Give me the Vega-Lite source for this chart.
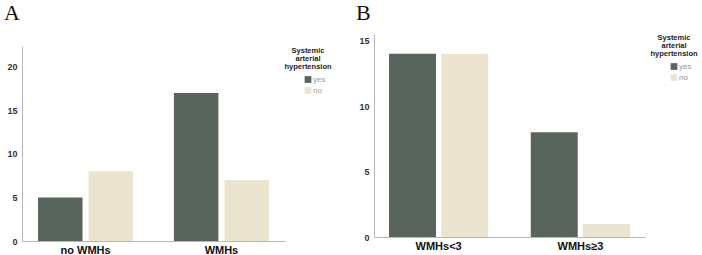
{
  "$schema": "https://vega.github.io/schema/vega-lite/v6.json",
  "padding": {"left": 3, "top": 2, "right": 0, "bottom": 0},
  "background": "white",
  "config": {
    "view": {"stroke": null},
    "font": "Liberation Sans",
    "axis": {"domainColor": "#b5b9bd", "domainWidth": 1, "ticks": false, "grid": false, "title": null},
    "axisY": {"labelFontSize": 9, "labelColor": "#333333", "labelFontWeight": "bold", "labelPadding": 5},
    "axisX": {"labelFontSize": 11, "labelColor": "#111111", "labelFontWeight": "bold", "labelPadding": 3, "labelAngle": 0},
    "legend": {
      "titleFontSize": 7.5, "titleFontWeight": "bold", "titleColor": "#222222", "titleAlign": "center", "titleAnchor": "middle",
      "titleLineHeight": 8, "titlePadding": 5, "labelFontSize": 8, "labelColor": "#999999", "symbolType": "square", "symbolSize": 45,
      "symbolStrokeWidth": 0, "offset": 2, "rowPadding": 3, "symbolOffset": 14, "labelOffset": 1, "padding": 0
    },
    "title": {"anchor": "start", "font": "Liberation Serif", "fontSize": 22, "fontWeight": "normal", "color": "#111111", "dx": -3, "offset": 9}
  },
  "datasets": {
    "a": [
      {"group": "no WMHs", "hypertension": "yes", "count": 5},
      {"group": "no WMHs", "hypertension": "no", "count": 8},
      {"group": "WMHs", "hypertension": "yes", "count": 17},
      {"group": "WMHs", "hypertension": "no", "count": 7}
    ],
    "b": [
      {"group": "WMHs<3", "hypertension": "yes", "count": 14},
      {"group": "WMHs<3", "hypertension": "no", "count": 14},
      {"group": "WMHs≥3", "hypertension": "yes", "count": 8},
      {"group": "WMHs≥3", "hypertension": "no", "count": 1}
    ]
  },
  "hconcat": [
    {
      "data": {"name": "a"},
      "title": {"text": "A"},
      "width": 263,
      "height": 207,
      "mark": {"type": "bar"},
      "encoding": {
        "x": {"field": "group", "type": "nominal", "sort": ["no WMHs", "WMHs"], "scale": {"paddingInner": 0.3, "paddingOuter": 0.118}},
        "xOffset": {"field": "hypertension", "type": "nominal", "sort": ["yes", "no"], "scale": {"paddingInner": 0.12}},
        "y": {"field": "count", "type": "quantitative", "scale": {"domain": [0, 22.4], "nice": false, "range": [207, 12]}, "axis": {"values": [0, 5, 10, 15, 20]}},
        "color": {"field": "hypertension", "type": "nominal", "scale": {"domain": ["yes", "no"], "range": ["#59645d", "#ebe4cf"]}, "legend": {"title": ["Systemic", "arterial", "hypertension"], "orient": "none", "legendX": 262, "legendY": 13}}
      }
    },
    {
      "data": {"name": "b"},
      "title": {"text": "B"},
      "width": 271,
      "height": 203,
      "mark": {"type": "bar"},
      "encoding": {
        "x": {"field": "group", "type": "nominal", "sort": ["WMHs<3", "WMHs≥3"], "scale": {"paddingInner": 0.3, "paddingOuter": 0.106}},
        "xOffset": {"field": "hypertension", "type": "nominal", "sort": ["yes", "no"], "scale": {"paddingInner": 0.1}},
        "y": {"field": "count", "type": "quantitative", "scale": {"domain": [0, 15.5], "nice": false}, "axis": {"values": [0, 5, 10, 15]}},
        "color": {"field": "hypertension", "type": "nominal", "scale": {"domain": ["yes", "no"], "range": ["#59645d", "#ebe4cf"]}, "legend": {"title": ["Systemic", "arterial", "hypertension"], "offset": 5}}
      }
    }
  ],
  "spacing": 23,
  "resolve": {"legend": {"color": "independent"}, "scale": {"y": "independent", "x": "independent", "xOffset": "independent"}}
}
